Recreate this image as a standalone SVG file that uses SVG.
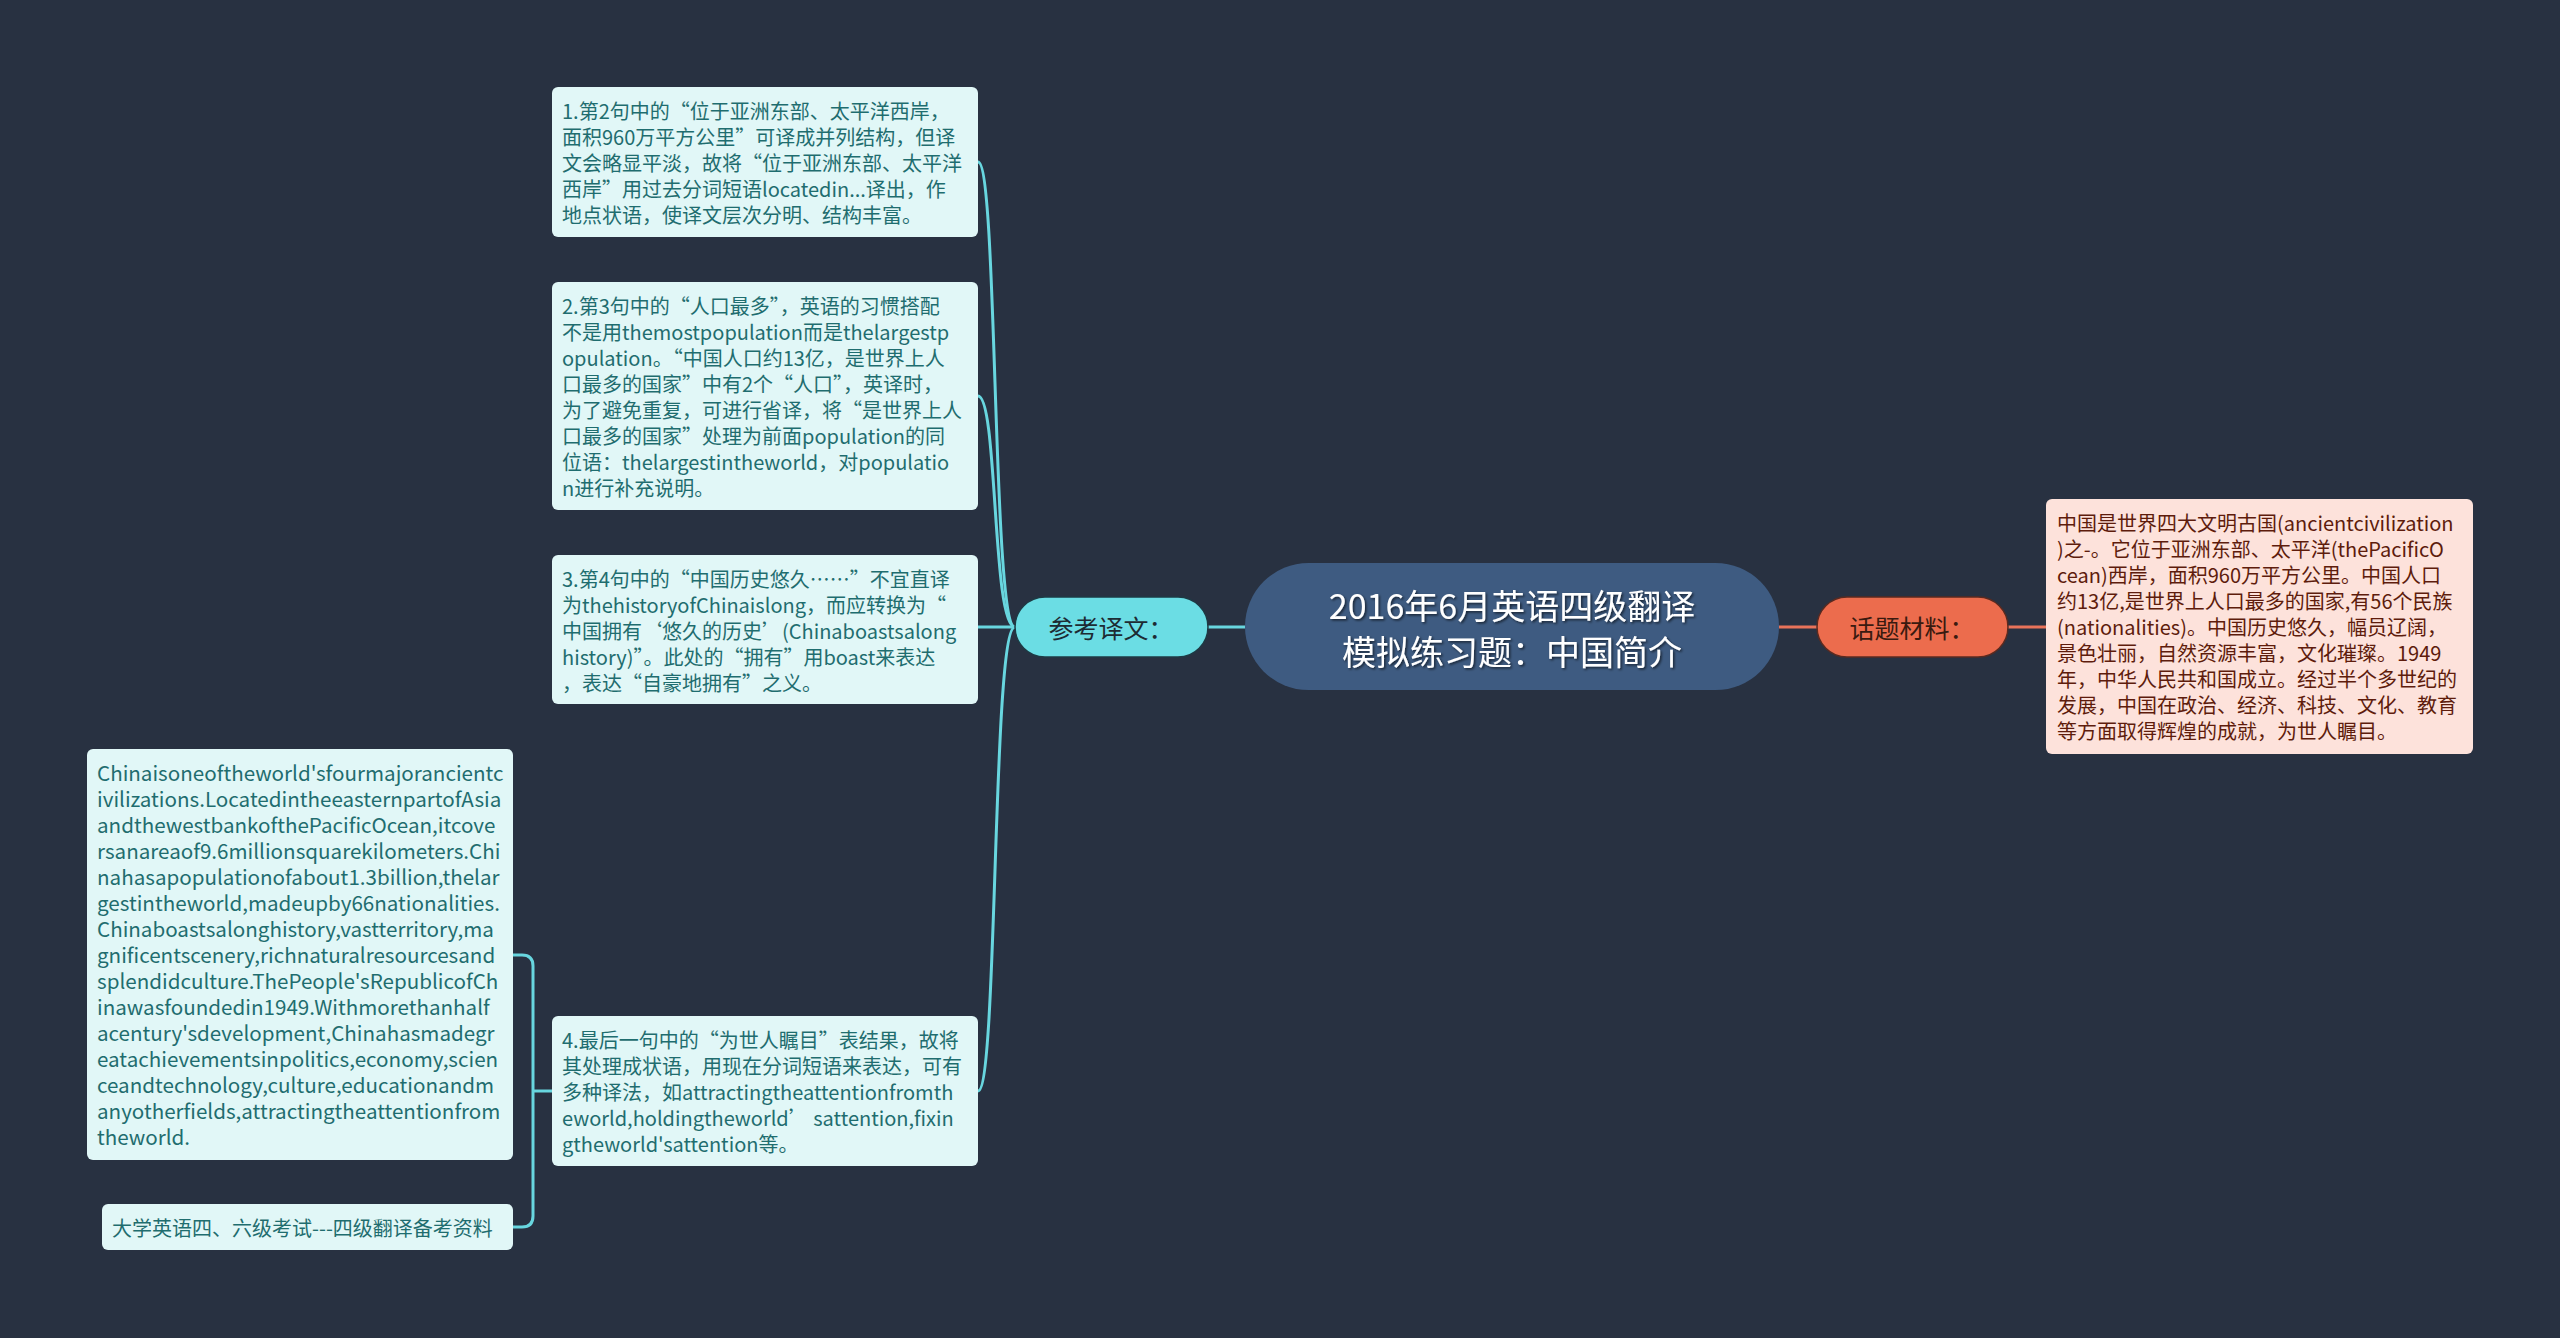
<svg xmlns="http://www.w3.org/2000/svg" width="2560" height="1338" viewBox="0 0 2560 1338">
<style>
.bg{fill:#283141}
.box{fill:#e1f7f7}
.bt{font-family:"Noto Sans CJK SC","Microsoft YaHei",sans-serif;font-size:20px;fill:#1f6d6f;dominant-baseline:central}
.rbox{fill:#fde2db}
.rt{font-family:"Noto Sans CJK SC","Microsoft YaHei",sans-serif;font-size:20px;fill:#5e1c0c;dominant-baseline:central}
.lc{fill:none;stroke:#68d6df;stroke-width:3}
.lo{fill:none;stroke:#e8735a;stroke-width:3}
.ct{font-family:"Noto Sans CJK SC","Microsoft YaHei",sans-serif;font-size:34px;fill:#ffffff;text-anchor:middle;dominant-baseline:central}
.mt{font-family:"Noto Sans CJK SC","Microsoft YaHei",sans-serif;font-size:25px;text-anchor:middle;dominant-baseline:central}
</style>
<defs>
<filter id="sh" x="-10%" y="-20%" width="120%" height="140%">
<feDropShadow dx="1.5" dy="1.5" stdDeviation="0.8" flood-color="#000" flood-opacity="0.6"/>
</filter>
</defs>
<rect class="bg" x="0" y="0" width="2560" height="1338"/>

<g id="connectors">
<path class="lc" d="M1245 627 L1208 627"/>
<path class="lc" d="M1015 627 C992 627 998 162 978 162"/>
<path class="lc" d="M1015 627 C992 627 998 396 978 396"/>
<path class="lc" d="M1015 627 L978 627"/>
<path class="lc" d="M1015 627 C992 627 998 1091 978 1091"/>
<path class="lc" d="M552 1091 L533 1091"/>
<path class="lc" d="M533 1091 L533 966 Q533 955 522 955 L513 955"/>
<path class="lc" d="M533 1091 L533 1216 Q533 1227 522 1227 L513 1227"/>
<path class="lo" d="M1779 627 L1817 627"/>
<path class="lo" d="M2008 627 L2046 627"/>
</g>

<g id="center">
<rect x="1245" y="563" width="534" height="127" rx="63.5" fill="#3e5b81"/>
<text class="ct" filter="url(#sh)"><tspan x="1512" y="604">2016年6月英语四级翻译</tspan><tspan x="1512" y="650">模拟练习题：中国简介</tspan></text>
</g>

<g id="ref-label">
<rect x="1015" y="597" width="193" height="60" rx="30" fill="#6bdde4" stroke="#1e3a44" stroke-width="1.5"/>
<text class="mt" x="1111" y="627" fill="#1d2b33">参考译文：</text>
</g>

<g id="topic-label">
<rect x="1817" y="597" width="191" height="60" rx="30" fill="#ec6c4d" stroke="#5a2a20" stroke-width="1.5"/>
<text class="mt" x="1912" y="627" fill="#3a1a10">话题材料：</text>
</g>

<g id="topic-text">
<rect class="rbox" x="2046" y="499" width="427" height="255" rx="6"/>
<text class="rt">
<tspan x="2057" y="522">中国是世界四大文明古国(ancientcivilization</tspan>
<tspan x="2057" y="548">)之-。它位于亚洲东部、太平洋(thePacificO</tspan>
<tspan x="2057" y="574">cean)西岸，面积960万平方公里。中国人口</tspan>
<tspan x="2057" y="600">约13亿,是世界上人口最多的国家,有56个民族</tspan>
<tspan x="2057" y="626">(nationalities)。中国历史悠久，幅员辽阔，</tspan>
<tspan x="2057" y="652">景色壮丽，自然资源丰富，文化璀璨。1949</tspan>
<tspan x="2057" y="678">年，中华人民共和国成立。经过半个多世纪的</tspan>
<tspan x="2057" y="704">发展，中国在政治、经济、科技、文化、教育</tspan>
<tspan x="2057" y="730">等方面取得辉煌的成就，为世人瞩目。</tspan>
</text>
</g>

<g id="note1">
<rect class="box" x="552" y="87" width="426" height="150" rx="6"/>
<text class="bt">
<tspan x="562" y="110">1.第2句中的“位于亚洲东部、太平洋西岸，</tspan>
<tspan x="562" y="136">面积960万平方公里”可译成并列结构，但译</tspan>
<tspan x="562" y="162">文会略显平淡，故将“位于亚洲东部、太平洋</tspan>
<tspan x="562" y="188">西岸”用过去分词短语locatedin...译出，作</tspan>
<tspan x="562" y="214">地点状语，使译文层次分明、结构丰富。</tspan>
</text>
</g>

<g id="note2">
<rect class="box" x="552" y="282" width="426" height="228" rx="6"/>
<text class="bt">
<tspan x="562" y="305">2.第3句中的“人口最多”，英语的习惯搭配</tspan>
<tspan x="562" y="331">不是用themostpopulation而是thelargestp</tspan>
<tspan x="562" y="357">opulation。“中国人口约13亿，是世界上人</tspan>
<tspan x="562" y="383">口最多的国家”中有2个“人口”，英译时，</tspan>
<tspan x="562" y="409">为了避免重复，可进行省译，将“是世界上人</tspan>
<tspan x="562" y="435">口最多的国家”处理为前面population的同</tspan>
<tspan x="562" y="461">位语：thelargestintheworld，对populatio</tspan>
<tspan x="562" y="487">n进行补充说明。</tspan>
</text>
</g>

<g id="note3">
<rect class="box" x="552" y="555" width="426" height="149" rx="6"/>
<text class="bt">
<tspan x="562" y="578">3.第4句中的“中国历史悠久……”不宜直译</tspan>
<tspan x="562" y="604">为thehistoryofChinaislong，而应转换为“</tspan>
<tspan x="562" y="630">中国拥有‘悠久的历史’(Chinaboastsalong</tspan>
<tspan x="562" y="656">history)”。此处的“拥有”用boast来表达</tspan>
<tspan x="562" y="682">，表达“自豪地拥有”之义。</tspan>
</text>
</g>

<g id="note4">
<rect class="box" x="552" y="1016" width="426" height="150" rx="6"/>
<text class="bt">
<tspan x="562" y="1039">4.最后一句中的“为世人瞩目”表结果，故将</tspan>
<tspan x="562" y="1065">其处理成状语，用现在分词短语来表达，可有</tspan>
<tspan x="562" y="1091">多种译法，如attractingtheattentionfromth</tspan>
<tspan x="562" y="1117">eworld,holdingtheworld’ sattention,fixin</tspan>
<tspan x="562" y="1143">gtheworld'sattention等。</tspan>
</text>
</g>

<g id="translation">
<rect class="box" x="87" y="749" width="426" height="411" rx="6"/>
<text class="bt" style="font-size:20.6px">
<tspan x="97" y="772">Chinaisoneoftheworld'sfourmajorancientc</tspan>
<tspan x="97" y="798">ivilizations.LocatedintheeasternpartofAsia</tspan>
<tspan x="97" y="824">andthewestbankofthePacificOcean,itcove</tspan>
<tspan x="97" y="850">rsanareaof9.6millionsquarekilometers.Chi</tspan>
<tspan x="97" y="876">nahasapopulationofabout1.3billion,thelar</tspan>
<tspan x="97" y="902">gestintheworld,madeupby66nationalities.</tspan>
<tspan x="97" y="928">Chinaboastsalonghistory,vastterritory,ma</tspan>
<tspan x="97" y="954">gnificentscenery,richnaturalresourcesand</tspan>
<tspan x="97" y="980">splendidculture.ThePeople'sRepublicofCh</tspan>
<tspan x="97" y="1006">inawasfoundedin1949.Withmorethanhalf</tspan>
<tspan x="97" y="1032">acentury'sdevelopment,Chinahasmadegr</tspan>
<tspan x="97" y="1058">eatachievementsinpolitics,economy,scien</tspan>
<tspan x="97" y="1084">ceandtechnology,culture,educationandm</tspan>
<tspan x="97" y="1110">anyotherfields,attractingtheattentionfrom</tspan>
<tspan x="97" y="1136">theworld.</tspan>
</text>
</g>

<g id="source">
<rect class="box" x="102" y="1204" width="411" height="46" rx="6"/>
<text class="bt" x="112" y="1227">大学英语四、六级考试---四级翻译备考资料</text>
</g>
</svg>
